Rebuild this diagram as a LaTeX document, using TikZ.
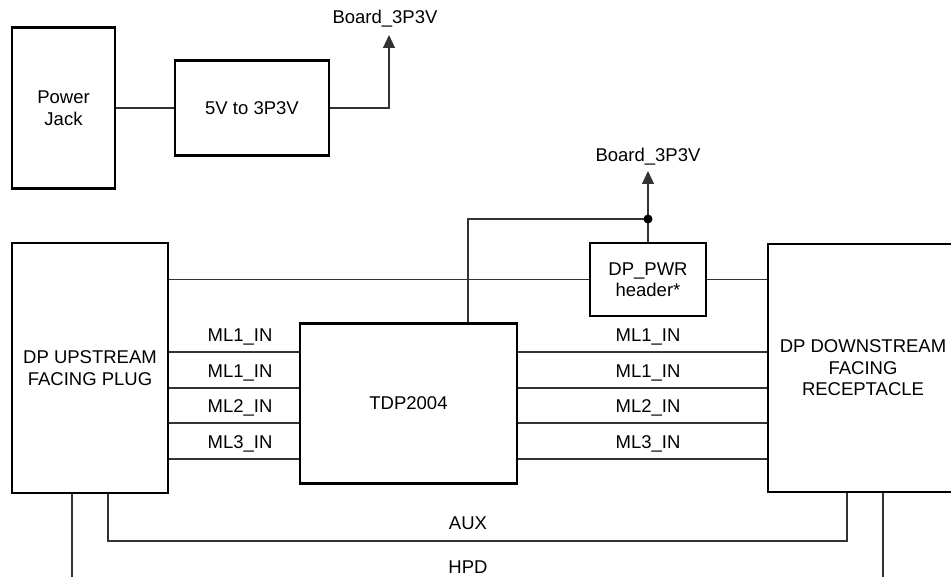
\documentclass[tikz,border=0pt]{standalone}
\usepackage{fontspec}
\setmainfont{Liberation Sans}
\usetikzlibrary{arrows.meta,calc}
\begin{document}
\begin{tikzpicture}[x=1pt,y=-1pt,
  every node/.style={font=\fontsize{18.5}{21.5}\selectfont},
  blk/.style={draw,line width=2.4pt,inner sep=0pt,align=center},
  wire/.style={line width=1.1pt,draw=black!80},
  arr/.style={wire,-{Triangle[width=12pt,length=13pt]}},
  lbl/.style={inner sep=0pt}]
\useasboundingbox (0,0) rectangle (951,577);
% blocks
\node[blk,minimum width=103,minimum height=161] (pj) at (63.5,108) {Power\\Jack};
\node[blk,minimum width=154,minimum height=95] (conv) at (252,108) {5V to 3P3V};
\node[blk,minimum width=156,minimum height=250] (plug) at (90,368) {DP UPSTREAM\\FACING PLUG};
\node[blk,minimum width=217,minimum height=160] (tdp) at (408.5,403.5) {TDP2004};
\node[blk,minimum width=116,minimum height=73] (pwr) at (648,279.5) {DP\_PWR\\header*};
\node[blk,minimum width=190,minimum height=248] (rec) at (863,368) {DP DOWNSTREAM\\FACING\\RECEPTACLE};
% power labels
\node[lbl] (b1) at (385,19) {Board\_3P3V};
\node[lbl] (b2) at (648,157) {Board\_3P3V};
\coordinate (c1) at (389,108);
\coordinate (t1) at (389,35);
\coordinate (j) at (648,219);
\coordinate (t2) at (648,171);
\coordinate (tv) at (468,219);
% top wires
\draw[wire] (pj.east |- conv.west) -- (conv.west);
\draw[arr] (conv.east) -- (c1) -- (t1);
\draw[arr] (j) -- (t2);
\draw[wire] (j) -- (pwr.north);
\draw[wire] (j) -- (tv) -- (tv |- tdp.north);
\fill (j) circle (4.5);
\draw[wire] (plug.east |- pwr.west) -- (pwr.west);
\draw[wire] (pwr.east) -- (rec.west |- pwr.east);
% main link lanes
\foreach \y/\t [count=\i] in {352/ML1\_IN,388/ML1\_IN,423/ML2\_IN,459/ML3\_IN}{
  \coordinate (l\i) at (0,\y);
  \draw[wire] (plug.east |- l\i) -- (tdp.west |- l\i);
  \draw[wire] (tdp.east |- l\i) -- (rec.west |- l\i);
  \node[lbl] (ll\i) at (240,\y-15) {\t};
  \node[lbl] (lr\i) at (648,\y-15) {\t};
}
% AUX and HPD
\coordinate (a1) at (108,541);
\coordinate (a2) at (847,541);
\draw[wire] (plug.south -| a1) -- (a1) -- (a2) -- (rec.south -| a2);
\node[lbl] (aux) at (468,523) {AUX};
\coordinate (h1) at (72,580);
\coordinate (h2) at (883,580);
\draw[wire] (plug.south -| h1) -- (h1);
\draw[wire] (rec.south -| h2) -- (h2);
\node[lbl] (hpd) at (468,567) {HPD};
\end{tikzpicture}
\end{document}
